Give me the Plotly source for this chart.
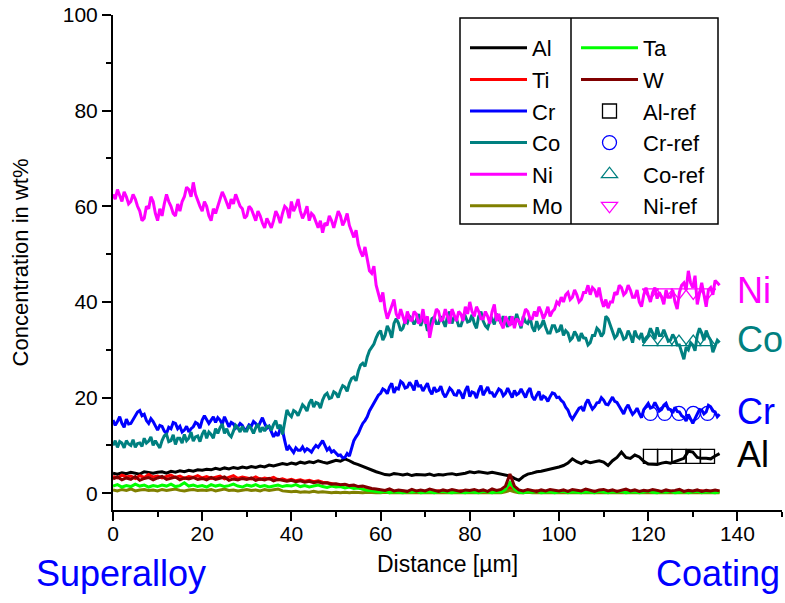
import plotly.graph_objects as go

# ---------------- data (wt%) ----------------
# Ni, Co, Cr read at 0.5 µm steps from 0 to 136 µm
Ni = [62.5, 61.5, 63.5, 62, 61, 63, 62, 60.5, 61, 62.5, 61.5, 60, 59, 57, 57.5, 60, 59.5, 62, 61, 58.5,
      57, 59.5, 58, 60.5, 62.5, 61, 60, 58.5, 58, 60.5, 59, 61, 62, 64, 63.5, 62, 65, 62.5, 61, 60,
      59, 61, 60, 58, 57, 59.5, 58.5, 60, 61, 63, 62, 60.5, 59.5, 61.5, 60.5, 62.5, 61, 60, 59.5, 57.5,
      58, 60, 59.5, 58, 57, 59, 58, 56.5, 55.5, 57.5, 56.5, 55.5, 57, 59, 58, 56.5, 58.5, 60, 59.5, 57.5,
      61, 59, 60, 61.5, 59, 57.5, 58.5, 60, 57, 58.5, 58, 56.5, 55.5, 57, 54.5, 56.5, 56, 58, 57, 55.5,
      57.5, 59, 58, 56, 57, 58.5, 56, 54.5, 53.5, 55, 52, 50.5, 49.5, 51.5, 48.5, 46.5, 46, 47.5, 43.5, 41.5,
      40, 42, 38.5, 36.5, 38, 39.5, 40.5, 37.5, 36.5, 38.5, 37, 35.5, 38, 36.5, 36, 38, 37.5, 35.5, 36, 38.5,
      35.5, 37, 32.5, 35, 36.5, 38.5, 38, 36, 36.5, 38.5, 37, 35.5, 38.5, 37, 36, 38, 37.5, 36, 39, 37.5,
      40, 38, 37, 39, 38, 36.5, 36.5, 38, 37, 35.5, 38, 39.5, 36, 37.5, 35.5, 34.5, 37, 36, 35, 37,
      34.5, 36.5, 36, 35, 37, 38.5, 38, 36.5, 36.5, 38, 37, 39, 38, 36.5, 37.5, 39, 37, 38, 38.5, 40,
      39.5, 41, 40, 41.5, 42, 40.5, 41, 42.5, 41.5, 40, 40.5, 42, 42, 43.5, 41.5, 43, 42.5, 41, 43, 40.5,
      39, 40.5, 38.7, 40, 40, 42, 41.5, 43.5, 43, 41.5, 42, 43.5, 42.5, 41, 41, 42.5, 40, 39, 41.5, 43,
      41.4, 40, 42, 43, 40.7, 42, 41, 39.5, 42.5, 41, 41, 42.5, 40, 38.5, 42, 43.5, 44, 42.5, 46.5, 44,
      43, 45.5, 39.5, 42, 44, 41.5, 39, 42.5, 43, 41.5, 44.5, 44, 43.5]

Co = [10, 11, 9.6, 10.8, 10.5, 9.5, 11, 10.3, 10, 11.2, 9.6, 10.4, 10.5, 9.8, 11.5, 10.5, 10.9, 11.8, 10, 11,
      10.2, 9.5, 11, 12, 12.3, 10.8, 11, 12.2, 10.2, 11.5, 11.5, 10.5, 12.3, 11, 11.5, 12.8, 10.9, 11.8, 12, 10.8,
      12.3, 13.2, 11.5, 12.8, 12.3, 11.5, 13.5, 12.5, 13.7, 14.5, 12.5, 13.5, 12.3, 11.8, 13, 14.2, 13.7, 12.8, 14, 13,
      13, 14.2, 13.5, 12.5, 13.7, 14.5, 12.8, 13.8, 13, 14, 14, 13.2, 14.4, 15.2, 13.5, 14.3, 12.3, 15, 17.4, 16.5,
      16, 17.3, 17, 16.2, 17.4, 18.5, 18, 17.2, 18.8, 19.6, 18, 19, 18.8, 17.8, 19.5, 20.5, 20.9, 19.8, 20, 21.2,
      20.9, 20, 21.5, 22.5, 22.2, 21.3, 23, 24, 24.3, 23.5, 25.5, 26.8, 27.2, 26.5, 28.5, 29.8, 30.5, 31.2, 32.5, 33.5,
      34, 32, 33, 35, 34, 32.5, 35.5, 36.5, 35.6, 34, 34.5, 36, 35.6, 37, 36.5, 35.3, 36.2, 37.5, 35, 36.5,
      36.2, 34, 34.5, 36.5, 36.8, 35.5, 35.5, 37, 36, 34.8, 37, 38, 35.5, 36.8, 36.5, 35, 35, 36.5, 37, 35.8,
      36, 37.3, 35.5, 34.5, 37, 38, 36, 35, 34.5, 36, 36.5, 35.3, 37.5, 36.3, 35.5, 37, 36, 34.8, 37, 35.5,
      35.5, 37.5, 36, 34.5, 37, 35.8, 35.5, 36.8, 34.7, 33.8, 36, 34.5, 35, 36.2, 34.7, 33.5, 33.5, 35, 35, 33.8,
      34, 35.2, 33, 34, 33.5, 32, 32.5, 33.8, 33, 31.8, 33.5, 32.5, 32.4, 31, 31.5, 33, 33, 34.5, 34, 32.8,
      33.5, 37, 36.5, 35, 34, 32.5, 33, 34.5, 33.5, 32.2, 32.5, 34, 33, 31.5, 34, 32.8, 32.4, 33.5, 31.5, 32.5,
      33, 34.5, 33.5, 32.2, 34.7, 33, 33, 34.2, 33, 31.8, 32, 33.2, 32.4, 31, 31, 29.5, 28, 30.5, 30, 31.5,
      31, 29.8, 33, 34.5, 33.5, 32, 34, 32.8, 32, 29.5, 30.7, 32, 31.5]

Cr = [15.3, 14.2, 15, 16, 14.6, 13.8, 15.5, 14.5, 14.6, 15.4, 16, 17, 17.3, 16.2, 16.5, 15.2, 14.6, 15.6, 15, 14,
      13.2, 14.2, 14, 13, 12.5, 13.8, 13.5, 14.8, 14.6, 13.5, 14, 12.8, 13.2, 14, 12.8, 13.5, 13.9, 14.8, 14.5, 13.6,
      15.3, 16.2, 15.5, 14.6, 15.3, 16, 14.8, 15.8, 15.3, 14.4, 16, 15, 13.9, 14.8, 14.5, 13.6, 13.9, 14.6, 14.2, 13.2,
      13.5, 14.3, 14, 15, 14.6, 13.8, 15, 15.8, 14.6, 13.6, 14, 12.8, 11.8, 12.6, 12, 13.5, 13.2, 11, 9, 9.8,
      9, 8.5, 9.5, 9, 9, 9.7, 8.8, 9.3, 9, 8.6, 9.4, 10, 9.6, 10.4, 11, 10, 9, 9.5, 8.6, 8.9,
      8.4, 7.9, 8, 7.4, 7.5, 8.3, 7.8, 9.4, 11, 11.8, 12.5, 13.6, 14.6, 15.2, 16, 17.2, 18, 18.8, 19.5, 20.5,
      20.9, 21.8, 21.5, 20.8, 22.2, 23, 21, 22, 21.8, 23.4, 23, 22, 22.2, 23.2, 22.5, 21.5, 23.6, 22.4, 22.5, 21.4,
      22.2, 23, 21.5, 20.7, 22.2, 21.3, 21.5, 22.4, 20.9, 20.1, 21, 22, 21.5, 20.6, 20.5, 21.6, 20.9, 19.8, 21.5, 22.4,
      20.2, 21.2, 21, 19.9, 21.5, 22.5, 20.5, 21.4, 22.2, 21, 21, 20.1, 20.9, 21.8, 21.5, 20.4, 20.9, 22, 21, 20,
      21.5, 20.6, 20.9, 21.8, 20.9, 20, 21.3, 22, 20.2, 19.5, 20.5, 21.3, 19.5, 20.3, 20, 19.2, 20.2, 21, 20.8, 20,
      20.1, 19.4, 19, 18, 17.4, 16.2, 15.5, 16.3, 17, 17.8, 18, 17.2, 18.8, 19.6, 18.5, 17.6, 18.1, 18.9, 19, 20,
      19.5, 18.6, 18.5, 19.4, 20.1, 19.2, 19, 18.2, 17.4, 16.6, 17.8, 18.5, 17.4, 16.5, 17, 17.8, 16.7, 15.8, 17.5, 18.3,
      18.8, 17.8, 18, 19, 18.1, 17.2, 17.5, 18.4, 18.8, 17.6, 17.5, 16.8, 18, 17.1, 17, 16.2, 15.9, 15.1, 16.5, 15.5,
      14.6, 15.6, 16.5, 17.5, 17.4, 16.6, 17, 18.4, 18.1, 17.2, 17, 16, 16.5]

# Al and the minor elements read at 1 µm steps from 0 to 136 µm
Al = [4.2, 4, 4.3, 4.1, 4.4, 4.2, 4, 4.5, 4.3, 4.2,
      4.4, 4.5, 4.2, 4.6, 4.4, 4.7, 4.5, 4.8, 4.6, 4.9,
      4.8, 5, 4.9, 5.2, 5, 5.3, 5.1, 5.4, 5.2, 5.5,
      5.3, 5.6, 5.4, 5.7, 5.5, 5.9, 5.7, 6, 6.2, 6,
      6.3, 6.1, 6.5, 6.3, 6.6, 6.4, 6.8, 6.5, 6.3, 6.6,
      6.9, 6.7, 7.2, 6.8, 6.3, 6, 5.6, 5.2, 4.8, 4.5,
      4.2, 3.9, 3.8, 4.1, 4, 3.8, 4, 3.7, 3.9, 3.8,
      3.8, 4, 3.7, 3.9, 3.8, 4, 4.1, 3.9, 4, 4.2,
      4.5, 4.3, 4.5, 4.4, 4.2, 4.4, 4.2, 4.1, 3.8, 3.6,
      3.1, 2.7, 3.5, 4, 4.2, 4.5, 4.6, 4.8, 5, 5.3,
      5.5, 5.8, 6.3, 7.2, 6.6, 6.2, 6.7, 6.4, 6.6, 6.8,
      6.5, 5.8, 6.8, 7.5, 8.6, 7.5, 7.3, 8, 7.6, 6.7,
      6.1, 6, 6, 6.3, 6.5, 6.3, 6.6, 7, 7.3, 8.8,
      8.6, 7.5, 7.3, 7.3, 7.2, 7.8, 8.3]

Ti = [3.5, 3.2, 3.8, 3.4, 3.6, 3.1, 3.7, 3.3, 3.9, 3.4,
      3.6, 3.2, 3.5, 3.8, 3.3, 3.6, 3.1, 3.5, 3.3, 3.7,
      3.2, 3.5, 3.1, 3.4, 3.6, 3, 3.3, 3.7, 3.1, 3.4,
      3.2, 3, 3.4, 2.9, 3.2, 3, 3.3, 2.8, 3, 2.7,
      2.9, 2.6, 2.8, 2.5, 2.7, 2.4, 2.6, 2.3, 2.2, 2,
      1.9, 1.7, 1.8, 1.5, 1.3, 1.2, 0.9, 0.8, 0.6, 0.5,
      0.4, 0.2, 0.5, 0.3, 0.2, 0.4, 0.3, 0.5, 0.2, 0.3,
      0.4, 0.2, 0.3, 0.5, 0.2, 0.4, 0.3, 0.2, 0.5, 0.3,
      0.2, 0.4, 0.3, 0.5, 0.2, 0.3, 0.4, 0.2, 0.6, 1.2,
      0.8, 0.3, 0.2, 0.4, 0.3, 0.5, 0.2, 0.3, 0.4, 0.2,
      0.3, 0.5, 0.2, 0.4, 0.3, 0.2, 0.5, 0.3, 0.4, 0.2,
      0.6, 0.3, 0.2, 0.4, 0.3, 0.5, 0.2, 0.4, 0.3, 0.2,
      0.4, 0.3, 0.5, 0.2, 0.3, 0.4, 0.2, 0.5, 0.3, 0.4,
      0.2, 0.3, 0.5, 0.2, 0.4, 0.3, 0.4]

Mo = [0.7, 0.5, 0.8, 0.6, 0.9, 0.5, 0.7, 0.8, 0.6, 0.7,
      0.5, 0.8, 0.6, 0.7, 0.9, 0.6, 0.5, 0.7, 0.8, 0.6,
      0.7, 0.6, 0.8, 0.5, 0.7, 0.9, 0.6, 0.7, 0.5, 0.7,
      0.8, 0.6, 0.7, 0.5, 0.8, 0.6, 0.7, 0.9, 0.5, 0.4,
      0.3, 0.4, 0.2, 0.3, 0.2, 0.4, 0.2, 0.3, 0.2, 0.1,
      0.2, 0.1, 0.2, 0.1, 0.2, 0.1, 0.1, 0.2, 0.1, 0.1,
      0.1, 0.2, 0.1, 0.1, 0.2, 0.1, 0.1, 0.2, 0.1, 0.1,
      0.2, 0.1, 0.1, 0.2, 0.1, 0.1, 0.2, 0.1, 0.1, 0.2,
      0.1, 0.1, 0.2, 0.1, 0.1, 0.2, 0.1, 0.1, 0.3, 0.6,
      0.3, 0.1, 0.1, 0.2, 0.1, 0.1, 0.2, 0.1, 0.1, 0.2,
      0.1, 0.1, 0.2, 0.1, 0.1, 0.2, 0.1, 0.1, 0.2, 0.1,
      0.1, 0.2, 0.1, 0.1, 0.2, 0.1, 0.1, 0.2, 0.1, 0.1,
      0.2, 0.1, 0.1, 0.2, 0.1, 0.1, 0.2, 0.1, 0.1, 0.2,
      0.1, 0.1, 0.2, 0.1, 0.1, 0.2, 0.1]

Ta = [1.5, 1.8, 1.3, 1.6, 1.4, 1.9, 1.5, 1.7, 1.3, 1.6,
      1.4, 1.7, 1.5, 1.9, 1.4, 1.6, 2.2, 1.5, 1.7, 1.4,
      1.6, 1.3, 1.8, 1.5, 1.7, 1.4, 1.6, 1.9, 1.5, 1.3,
      1.7, 1.5, 1.8, 1.4, 1.6, 1.3, 1.5, 1.7, 1.4, 1.6,
      1.5, 1.8, 1.4, 1.6, 1.3, 1.5, 1.7, 1.4, 1.2, 1.5,
      1.3, 1.4, 1.1, 1.3, 1.0, 1.1, 0.8, 0.6, 0.5, 0.3,
      0.2, 0.4, 0.1, 0.3, 0.2, 0.1, 0.3, 0.2, 0.4, 0.1,
      0.2, 0.3, 0.1, 0.2, 0.4, 0.2, 0.1, 0.3, 0.2, 0.1,
      0.3, 0.2, 0.1, 0.4, 0.2, 0.1, 0.3, 0.2, 0.8, 2.2,
      0.9, 0.2, 0.1, 0.3, 0.2, 0.4, 0.1, 0.2, 0.3, 0.1,
      0.2, 0.4, 0.1, 0.3, 0.2, 0.1, 0.3, 0.2, 0.1, 0.4,
      0.2, 0.1, 0.3, 0.2, 0.4, 0.1, 0.2, 0.3, 0.1, 0.2,
      0.4, 0.2, 0.1, 0.3, 0.2, 0.4, 0.1, 0.2, 0.3, 0.1,
      0.2, 0.4, 0.1, 0.3, 0.2, 0.1, 0.3]

W = [3, 3.4, 2.8, 3.2, 2.9, 3.5, 2.7, 3.1, 3.3, 2.8,
     3.2, 3.5, 2.9, 3.1, 3.4, 2.8, 3.2, 3, 3.3, 2.9,
     3.1, 2.8, 3.3, 2.9, 3.2, 3.4, 2.7, 3, 2.8, 3.1,
     2.9, 3.2, 2.7, 3, 2.8, 3.1, 2.6, 2.9, 2.7, 2.5,
     2.7, 2.4, 2.6, 2.3, 2.5, 2.2, 2.4, 2.1, 2.2, 1.9,
     2, 1.8, 1.9, 1.6, 1.7, 1.4, 1.5, 1.2, 1, 0.9,
     0.8, 0.6, 0.9, 0.5, 0.7, 0.6, 0.4, 0.8, 0.5, 0.7,
     0.5, 0.9, 0.6, 0.4, 0.7, 0.5, 0.8, 0.6, 0.4, 0.7,
     0.6, 0.8, 0.5, 0.7, 0.4, 0.9, 0.6, 0.8, 1.5, 4.0,
     1.5, 0.7, 0.5, 0.8, 0.6, 0.4, 0.7, 0.5, 0.8, 0.6,
     0.5, 0.7, 0.4, 0.8, 0.6, 0.5, 0.9, 0.6, 0.4, 0.7,
     0.8, 0.5, 0.7, 0.4, 0.6, 0.9, 0.5, 0.7, 0.4, 0.6,
     0.5, 0.8, 0.6, 0.4, 0.7, 0.5, 0.6, 0.8, 0.4, 0.6,
     0.5, 0.7, 0.4, 0.6, 0.5, 0.7, 0.5]

# reference compositions of the coating
ref_x = [120.5, 123.7, 126.9, 130.1, 133.3]
Al_ref = [7.7, 7.7, 7.7, 7.7, 7.7]
Cr_ref = [16.7, 16.7, 16.7, 16.7, 16.7]
Co_ref = [31.6, 31.6, 31.6, 31.6, 31.6]
Ni_ref = [42.0, 42.0, 42.0, 42.0, 42.0]

x_ticks = [0, 20, 40, 60, 80, 100, 120, 140]
y_ticks = [0, 20, 40, 60, 80, 100]

FONT = "Liberation Sans, Arial, sans-serif"

def xs(vals, step):
    return [i * step for i in range(len(vals))]

lines = [
    ("Al", Al, 1.0, "#000000", "legend"),
    ("Ti", Ti, 1.0, "#ff0000", "legend"),
    ("Cr", Cr, 0.5, "#0000ff", "legend"),
    ("Co", Co, 0.5, "#008080", "legend"),
    ("Ni", Ni, 0.5, "#ff00ff", "legend"),
    ("Mo", Mo, 1.0, "#808000", "legend"),
    ("Ta", Ta, 1.0, "#00ff00", "legend2"),
    ("W", W, 1.0, "#800000", "legend2"),
]

fig = go.Figure()
for name, vals, step, color, lg in lines:
    fig.add_trace(go.Scatter(
        x=xs(vals, step), y=vals, mode="lines", name=name, legend=lg,
        line=dict(color=color, width=3)))

refs = [
    ("Al-ref", Al_ref, "#000000", "square-open"),
    ("Cr-ref", Cr_ref, "#0000ff", "circle-open"),
    ("Co-ref", Co_ref, "#008080", "triangle-up-open"),
    ("Ni-ref", Ni_ref, "#ff00ff", "triangle-down-open"),
]
for name, vals, color, sym in refs:
    fig.add_trace(go.Scatter(
        x=ref_x, y=vals, mode="markers", name=name, legend="legend2",
        marker=dict(symbol=sym, size=14, color=color, line=dict(color=color, width=1.3))))

# side labels at the reference levels
side = [("Ni", Ni_ref[0], "#ff00ff"), ("Co", Co_ref[0], "#008080"),
        ("Cr", Cr_ref[0], "#0000ff"), ("Al", Al_ref[0], "#000000")]
for txt, yv, col in side:
    fig.add_annotation(x=139.5, y=yv + 0.5, xref="x", yref="y", text=txt, showarrow=False,
                       xanchor="left", yanchor="middle",
                       font=dict(family=FONT, size=36, color=col))

fig.add_annotation(x=(34 - 113) / 669, y=-0.128, xref="paper", yref="paper", text="Superalloy",
                   showarrow=False, xanchor="left", yanchor="middle",
                   font=dict(family=FONT, size=36, color="#0000ff"))
fig.add_annotation(x=1.0, y=-0.128, xref="paper", yref="paper", text="Coating",
                   showarrow=False, xanchor="right", yanchor="middle",
                   font=dict(family=FONT, size=36, color="#0000ff"))

# legend frame and column divider
lx0, lx1 = (460 - 113) / 669, (718 - 113) / 669
ly0, ly1 = (510 - 224) / 495, (510 - 18) / 495
fig.add_shape(type="rect", xref="paper", yref="paper", x0=lx0, x1=lx1, y0=ly0, y1=ly1,
              line=dict(color="black", width=1.5), fillcolor="white", layer="above")
fig.add_shape(type="line", xref="paper", yref="paper", x0=(571 - 113) / 669, x1=(571 - 113) / 669,
              y0=ly0, y1=ly1, line=dict(color="black", width=1.5), layer="above")

axis_common = dict(showline=True, linecolor="black", linewidth=2, ticks="outside",
                   tickcolor="black", tickwidth=2, ticklen=9, showgrid=False, zeroline=False,
                   tickfont=dict(family=FONT, size=21, color="black"), mirror=False)

leg_common = dict(orientation="v", xanchor="left", yanchor="top",
                  bgcolor="rgba(0,0,0,0)", borderwidth=0, itemwidth=57,
                  font=dict(family=FONT, size=22, color="black"), traceorder="normal")

fig.update_layout(
    width=785, height=603,
    margin=dict(l=113, r=3, t=15, b=93),
    paper_bgcolor="white", plot_bgcolor="white",
    font=dict(family=FONT, color="black"),
    showlegend=True,
    legend=dict(x=(465 - 113) / 669, y=(510 - 27) / 495, **leg_common),
    legend2=dict(x=(576 - 113) / 669, y=(510 - 27) / 495, **leg_common),
    xaxis=dict(range=[0, 150], tickvals=x_ticks, ticktext=[str(v) for v in x_ticks],
               minor=dict(ticks="outside", ticklen=5, tickwidth=2, tickcolor="black", dtick=10, tick0=0),
               ticklabelstandoff=-5,
               title=dict(text="Distance [µm]", font=dict(family=FONT, size=23), standoff=12),
               **axis_common),
    yaxis=dict(range=[-3.5, 100], tickvals=y_ticks, ticktext=[str(v) for v in y_ticks],
               minor=dict(ticks="outside", ticklen=5, tickwidth=2, tickcolor="black", dtick=10, tick0=0),
               title=dict(text="Concentration in wt%", font=dict(family=FONT, size=22), standoff=28),
               **axis_common),
)

fig.write_html("out.html", config={"displayModeBar": False})
